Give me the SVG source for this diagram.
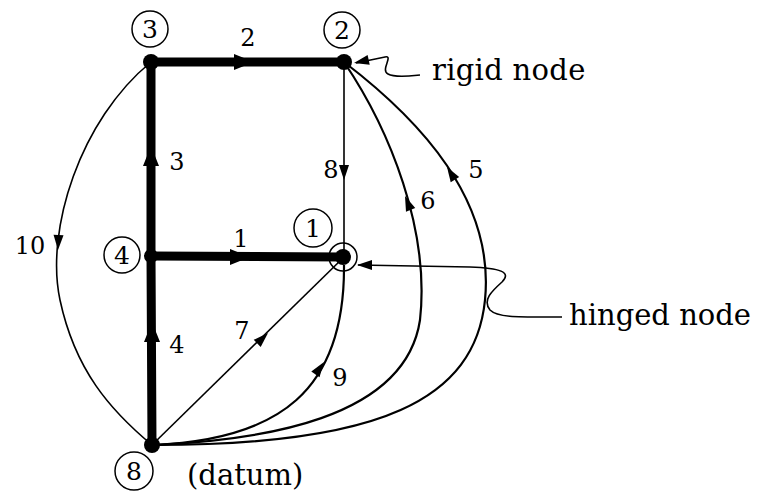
<svg xmlns="http://www.w3.org/2000/svg" width="757" height="493" viewBox="0 0 757 493">
<style>
.thick{stroke:#000;stroke-width:9;fill:none;stroke-linecap:round}
.thin{stroke:#000;stroke-width:1.6;fill:none}
.med{stroke:#000;stroke-width:2.2;fill:none}
.lbl{font-family:"DejaVu Serif","Liberation Serif",serif;font-size:24px;fill:#000;text-anchor:middle}
.cl{font-family:"DejaVu Serif","Liberation Serif",serif;font-size:25px;fill:#000;text-anchor:middle}
.ring{stroke:#000;stroke-width:1.5;fill:none}
.txt{font-family:"DejaVu Serif","Liberation Serif",serif;font-size:29px;fill:#000}
.dot{fill:#000}
</style>
<defs>
<path id="ahB" d="M0,0 L-20,-8 L-20,8 Z" fill="#000"/>
<path id="ahS" d="M0,0 L-15,-5 L-15,5 Z" fill="#000"/>
</defs>
<rect width="757" height="493" fill="#fff"/>
<g id="connectors">
<g id="e2"><line class="thick" x1="151" y1="62" x2="344" y2="62"/><use href="#ahB" transform="translate(254,62)"/><text class="lbl" x="248" y="46">2</text></g>
<g id="e3"><line class="thick" x1="151" y1="256" x2="151" y2="62"/><use href="#ahB" transform="translate(151,146) rotate(-90)"/><text class="lbl" x="177" y="170">3</text></g>
<g id="e1"><line class="thick" x1="151" y1="256" x2="344" y2="257"/><use href="#ahB" transform="translate(250,257)"/><text class="lbl" x="241" y="247">1</text></g>
<g id="e4"><line class="thick" x1="152" y1="445" x2="151" y2="256"/><use href="#ahB" transform="translate(152,322) rotate(-90)"/><text class="lbl" x="177" y="353">4</text></g>
<g id="e8"><line class="thin" x1="344" y1="62" x2="344" y2="257"/><use href="#ahS" transform="translate(344,180) rotate(90)"/><text class="lbl" x="331" y="178">8</text></g>
<g id="e7"><line class="thin" x1="152" y1="445" x2="344" y2="257"/><use href="#ahS" transform="translate(268,333) rotate(-44)"/><text class="lbl" x="242" y="339">7</text></g>
<g id="e9"><path class="med" d="M152,445 C280,440 345,390 344,265"/><use href="#ahS" transform="translate(324,362) rotate(-55)"/><text class="lbl" x="340" y="386">9</text></g>
<g id="e6"><path class="med" d="M344,62 C390,130 430,230 420,320 C405,420 260,440 155,445"/><use href="#ahS" transform="translate(405,196) rotate(-112)"/><text class="lbl" x="428" y="209">6</text></g>
<g id="e5"><path class="med" d="M344,62 C420,120 495,200 485,300 C475,400 380,445 155,445"/><use href="#ahS" transform="translate(447,167) rotate(-122)"/><text class="lbl" x="476" y="178">5</text></g>
<g id="e10"><path class="thin" d="M151,62 C80,120 45,230 60,300 C75,370 110,410 152,445"/><use href="#ahS" transform="translate(58,250) rotate(92)"/><text class="lbl" x="30" y="254">10</text></g>
</g>
<g id="n3"><circle class="dot" cx="151" cy="62" r="8"/><circle class="ring" cx="150" cy="29" r="18"/><text class="cl" x="150" y="38">3</text></g>
<g id="n2"><circle class="dot" cx="344" cy="62" r="8"/><circle class="ring" cx="342" cy="30" r="18"/><text class="cl" x="342" y="39">2</text></g>
<g id="n4"><circle class="dot" cx="151" cy="256" r="7"/><circle class="ring" cx="122" cy="255" r="18"/><text class="cl" x="122" y="264">4</text></g>
<g id="n1"><circle class="dot" cx="343" cy="257" r="8"/><circle class="ring" cx="343" cy="257" r="14"/><circle class="ring" cx="313" cy="228" r="19"/><text class="cl" x="313" y="237">1</text></g>
<g id="n8"><circle class="dot" cx="152" cy="445" r="8"/><circle class="ring" cx="134" cy="471" r="19"/><text class="cl" x="134" y="480">8</text><text class="txt" x="187" y="485">(datum)</text></g>
<g id="rigid-label"><path class="thin" d="M356,63 L385,57 C394,55 380,70 388,74 C395,78 410,76 420,75"/><use href="#ahS" transform="translate(354,63) rotate(168)"/><text class="txt" x="432" y="80" font-size="30" letter-spacing="0.3">rigid node</text></g>
<g id="hinged-label"><path class="thin" d="M358,265 L470,267 C500,268 512,272 502,282 C492,291 482,300 490,310 C498,318 520,317 562,317"/><use href="#ahS" transform="translate(357,265) rotate(180)"/><text class="txt" x="569" y="325">hinged node</text></g>
</svg>
